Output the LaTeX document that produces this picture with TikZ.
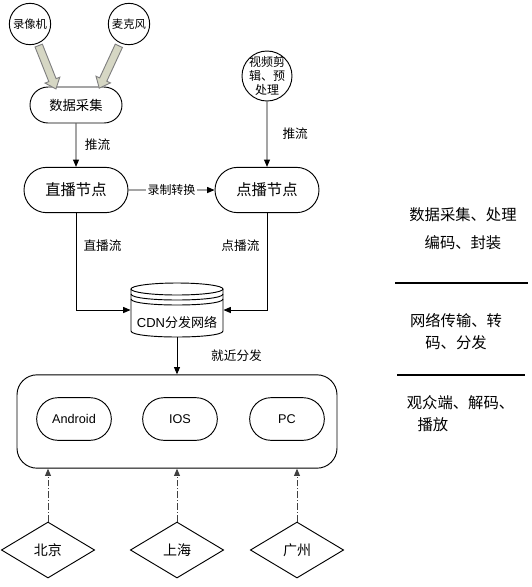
\documentclass[tikz,border=0pt]{standalone}
\usepackage{fontspec}
\setmainfont{Liberation Sans}
\newfontfamily\cjk{Noto Sans CJK SC}
\usetikzlibrary{shapes.geometric,shapes.misc,shapes.arrows,arrows.meta}
\definecolor{arrowfill}{RGB}{214,215,196}
\definecolor{arrowedge}{RGB}{128,128,128}

\begin{document}
\begin{tikzpicture}[x=0.75pt, y=-0.75pt, line width=0.7pt,
  >={Triangle[length=5.5pt,width=4.5pt]},
  every node/.style={font=\cjk\fontsize{9.5}{11}\selectfont},
  src/.style={circle, draw, inner sep=0pt, minimum size=31pt, font=\cjk\fontsize{8.5}{10}\selectfont},
  pill/.style={rounded rectangle, draw, inner sep=0pt},
  city/.style={diamond, draw, inner sep=0pt, aspect=1.66, minimum width=70pt, minimum height=42pt, font=\cjk\fontsize{10.5}{12}\selectfont},
  fatarr/.style={single arrow, draw=arrowedge, fill=arrowfill, inner sep=2.6pt, single arrow head extend=3pt, single arrow tip angle=80, minimum height=35pt, sloped, allow upside down},
  stage/.style={align=center, font=\cjk\fontsize{11.5}{21}\selectfont},
  sepline/.style={line width=2.2pt},
  viewer/.style={->, draw=darkgray, dash pattern=on 5pt off 1.5pt on 0.8pt off 1.5pt}]
  \useasboundingbox (0,0) rectangle (532,587);

  % 采集
  \node[src] (rec) at (30,24) {录像机};
  \node[src] (mic) at (129,24) {麦克风};
  \node[pill, minimum width=69pt, minimum height=27pt, font=\cjk\fontsize{10}{12}\selectfont] (collect) at (76,105) {数据采集};
  \coordinate (recin) at ([xshift=-15.75pt]collect.north);
  \coordinate (micin) at ([xshift=18pt]collect.north);
  \path (rec.-68) -- (recin) node[midway, fatarr] {};
  \path (mic.-115) -- (micin) node[midway, fatarr] {};
  \node[src, minimum size=37.5pt, label={[align=center, font=\cjk\fontsize{9}{10.5}\selectfont]center:视频剪\\辑、预\\处理}] (edit) at (267,76) {};

  % 直播 / 点播
  \node[pill, minimum width=78pt, minimum height=34pt, font=\cjk\fontsize{11.5}{13}\selectfont] (live) at (76,190) {直播节点};
  \node[pill, minimum width=78pt, minimum height=34pt, font=\cjk\fontsize{11.5}{13}\selectfont] (vod) at (267,190) {点播节点};
  \draw[->] (collect) -- node[right=3pt] {推流} (live);
  \draw[->] (edit) -- node[right=8pt] {推流} (vod);
  \draw[->] (live) -- node[fill=white, inner sep=1pt, font=\cjk\fontsize{9}{11}\selectfont] {录制转换} (vod);

  % CDN
  \node[minimum width=69pt, minimum height=40.5pt, inner sep=0pt] (cdn) at (177,310) {};
  \draw[fill=white] (131,289) -- (131,331) .. controls (131,339) and (223,339) .. (223,331) -- (223,289);
  \draw (177,289) ellipse [x radius=46, y radius=6];
  \draw (131,294) .. controls (131,302) and (223,302) .. (223,294);
  \draw (131,299) .. controls (131,307) and (223,307) .. (223,299);
  \node[font=\cjk\fontsize{9.75}{11}\selectfont] (cdntxt) at (177,322) {{\rmfamily CDN}分发网络};
  \draw[->] (live) |- node[pos=0.17, right=2pt] {直播流} (cdn.west);
  \draw[->] (vod) |- node[pos=0.17, left=2pt] {点播流} (cdn.east);

  % 观众端
  \node[draw, rounded corners=15pt, minimum width=240pt, minimum height=70pt] (clients) at (177,421.5) {};
  \draw[->] (cdn) -- node[right=22pt] {就近分发} (clients);
  \node[pill, minimum width=56pt, minimum height=32pt, font=\fontsize{9.5}{11}\selectfont] (android) at (74,419) {Android};
  \node[pill, minimum width=56pt, minimum height=32pt, font=\fontsize{9.5}{11}\selectfont] (ios) at (180,419) {IOS};
  \node[pill, minimum width=56pt, minimum height=32pt, font=\fontsize{9.5}{11}\selectfont] (pc) at (287,419) {PC};

  \node[city] (bj) at (48,550) {北京};
  \node[city] (sh) at (177,550) {上海};
  \node[city] (gz) at (297,550) {广州};
  \foreach \c in {bj,sh,gz}
    \draw[viewer] (\c.north) -- (\c.north |- clients.south);

  % 右侧说明
  \node[stage] (stage1) at (463,229) {数据采集、处理\\编码、封装};
  \draw[sepline] (395,283) -- (528,283);
  \node[stage, font=\cjk\fontsize{11.5}{17}\selectfont] (stage2) at (456,331.5) {网络传输、转\\码、分发};
  \draw[sepline] (397,375) -- (525,375);
  \node[stage, align=left, anchor=west, font=\cjk\fontsize{11.5}{17}\selectfont] (stage3) at (402,413.5) {观众端、解码、\\\hspace*{8pt}播放};
\end{tikzpicture}
\end{document}
